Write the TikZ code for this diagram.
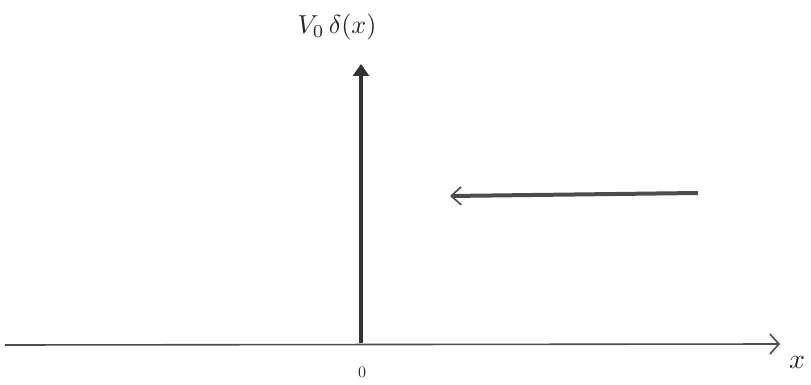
\documentclass[tikz,border=0pt]{standalone}
\usetikzlibrary{arrows.meta}
\begin{document}
\begin{tikzpicture}[x=1pt,y=-1pt,
  axisline/.style={line width=1.6pt,color=black!70,-{Straight Barb[length=9pt,width=20pt,line width=1.6pt]}},
  deltaline/.style={line width=4.5pt,color=black!80,-{Triangle[length=12pt,width=16pt]}},
  waveline/.style={line width=4pt,color=black!70,-{Straight Barb[length=10pt,width=18pt,line width=1.6pt]}},
  lbl/.style={color=black!85}]
\useasboundingbox (0,0) rectangle (811,385);
\coordinate (axL) at (5,345);
\coordinate (axR) at (780,344);
\draw[axisline] (axL) -- (axR);
\coordinate (d0) at (361,343);
\coordinate (d1) at (361,64);
\draw[deltaline] (d0) -- (d1);
\coordinate (w0) at (698,193);
\coordinate (w1) at (450,196);
\draw[waveline] (w0) -- (w1);
\node[lbl] (vlab) at (337,27) {\scalebox{2.6}{$V_0\,\delta(x)$}};
\node[lbl] (zero) at (362,372) {\scalebox{1.6}{$0$}};
\node[lbl] (xlab) at (797,362) {\scalebox{2.8}{$x$}};
\end{tikzpicture}
\end{document}
